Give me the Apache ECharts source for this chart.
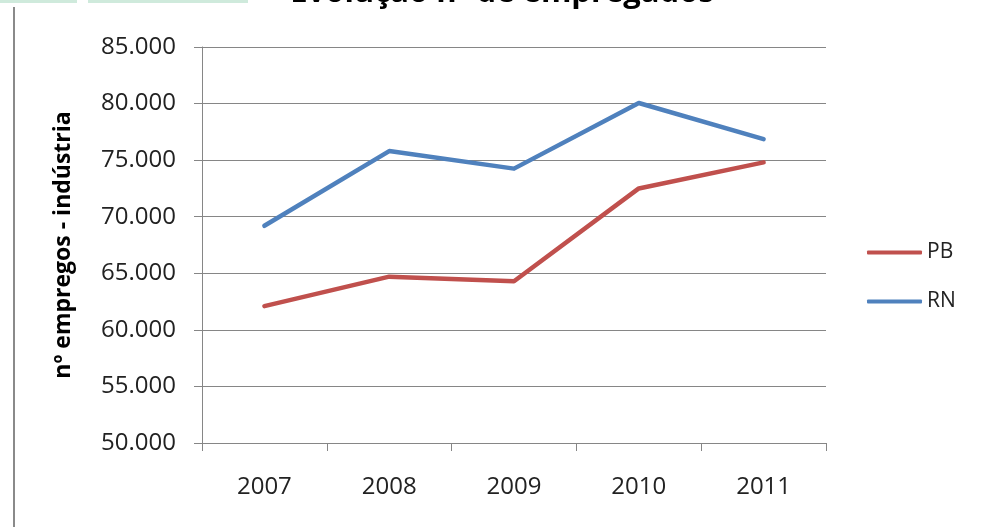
<!DOCTYPE html>
<html>
<head>
<meta charset="utf-8">
<script src="https://cdn.jsdelivr.net/npm/echarts@6/dist/echarts.min.js"></script>
<style>
  html, body { margin: 0; padding: 0; background: #fff; }
  #chart { width: 984px; height: 527px; }
</style>
</head>
<body>
<div id="chart"></div>
<script>
const years = ['2007', '2008', '2009', '2010', '2011']
const pb = [62100, 64700, 64300, 72500, 74800]
const rn = [69200, 75800, 74250, 80050, 76850]

const fmt = (v) => String(v).replace(/\B(?=(\d{3})+(?!\d))/g, '.')

const chart = echarts.init(document.getElementById('chart'))

const option = {
  backgroundColor: '#fff',
  animation: false,
  textStyle: { fontFamily: 'Open Sans' },
  graphic: [
    // bits of the sheet above the chart
    { type: 'rect', shape: { x: 0, y: 0, width: 77, height: 3 }, style: { fill: '#cfeadc' } },
    { type: 'rect', shape: { x: 88, y: 0, width: 160, height: 3 }, style: { fill: '#cfeadc' } },
    { type: 'line', shape: { x1: 14, y1: 7, x2: 14, y2: 527 }, style: { stroke: '#8a8a8a', lineWidth: 2 } },
    {
      type: 'text', x: 502, y: -7,
      style: {
        text: 'Evolução nº de empregados',
        font: 'bold 31px "Open Sans"',
        fill: '#000',
        textAlign: 'center',
        textVerticalAlign: 'middle'
      }
    }
  ],
  grid: { left: 202, right: 158, top: 47, bottom: 84 },
  legend: {
    orient: 'vertical',
    left: 867,
    top: 242,
    padding: 0,
    itemWidth: 55,
    itemHeight: 4,
    itemGap: 28,
    icon: 'roundRect',
    textStyle: { fontSize: 21, color: '#222', fontFamily: 'Open Sans' },
    data: ['PB', 'RN']
  },
  xAxis: {
    type: 'category',
    data: years,
    boundaryGap: true,
    axisLine: { lineStyle: { color: '#868686', width: 1 } },
    axisTick: { show: true, length: 8, lineStyle: { color: '#868686' } },
    axisLabel: { margin: 32, fontSize: 24, color: '#222' }
  },
  yAxis: {
    type: 'value',
    min: 50000,
    max: 85000,
    interval: 5000,
    name: 'nº empregos - indústria',
    nameLocation: 'middle',
    nameGap: 127,
    nameTextStyle: { fontSize: 23, fontWeight: 'bold', color: '#000' },
    axisLine: { show: true, lineStyle: { color: '#868686', width: 1 } },
    axisTick: { show: true, length: 8, lineStyle: { color: '#868686' } },
    axisLabel: { margin: 26, fontSize: 24, color: '#222', formatter: fmt },
    splitLine: { lineStyle: { color: '#868686', width: 1 } }
  },
  series: [
    {
      name: 'PB',
      type: 'line',
      data: pb,
      symbol: 'none',
      lineStyle: { color: '#c0504d', width: 4.5, cap: 'round', join: 'round' },
      itemStyle: { color: '#c0504d' }
    },
    {
      name: 'RN',
      type: 'line',
      data: rn,
      symbol: 'none',
      lineStyle: { color: '#4f81bd', width: 4.5, cap: 'round', join: 'round' },
      itemStyle: { color: '#4f81bd' }
    }
  ]
}

chart.setOption(option)
</script>
</body>
</html>
